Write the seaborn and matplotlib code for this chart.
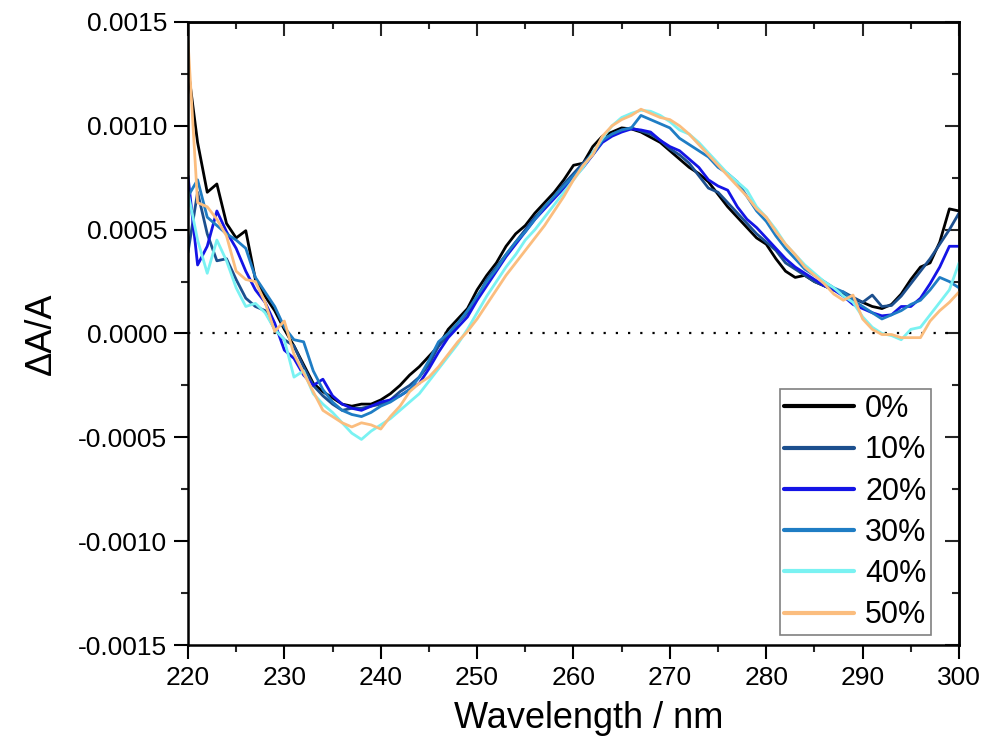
import numpy as np
import pandas as pd
import matplotlib
matplotlib.use("Agg")
import matplotlib.pyplot as plt
from matplotlib.ticker import MultipleLocator
import seaborn as sns

# wavelength grid (nm), 1 nm steps
wavelength = list(range(220, 301))

# dA/A values in units of 1e-4
conc_0 = [12.8, 9.2, 6.8, 7.2, 5.3, 4.6, 4.95, 2.6, 1.8, 1.1,
          0.2, -0.6, -1.5, -2.4, -2.8, -3.1, -3.4, -3.5, -3.4, -3.4,
          -3.2, -2.9, -2.5, -2.0, -1.6, -1.1, -0.6, 0.2, 0.7, 1.2,
          2.1, 2.8, 3.4, 4.2, 4.8, 5.2, 5.8, 6.3, 6.8, 7.4,
          8.1, 8.2, 9.0, 9.5, 9.7, 9.9, 9.85, 9.7, 9.45, 9.2,
          8.8, 8.4, 8.0, 7.7, 7.3, 6.7, 6.1, 5.6, 5.1, 4.6,
          4.3, 3.6, 3.0, 2.7, 2.8, 2.5, 2.3, 2.1, 1.9, 1.7,
          1.5, 1.3, 1.2, 1.4, 1.9, 2.6, 3.2, 3.4, 4.4, 6.0, 5.9]
conc_10 = [3.9, 6.8, 4.8, 3.5, 3.6, 2.6, 1.7, 1.3, 1.1, 0.2,
           -0.3, -0.6, -1.6, -2.5, -3.0, -3.4, -3.7, -3.6, -3.6, -3.5,
           -3.4, -3.2, -2.8, -2.5, -2.1, -1.5, -0.6, -0.1, 0.5, 1.0,
           1.7, 2.6, 3.2, 3.8, 4.4, 5.0, 5.6, 6.1, 6.6, 7.2,
           7.7, 8.2, 8.7, 9.3, 9.6, 9.8, 9.9, 9.75, 9.6, 9.3,
           8.9, 8.6, 8.2, 7.6, 7.0, 6.8, 6.3, 5.8, 5.3, 4.8,
           4.4, 4.0, 3.4, 3.1, 2.8, 2.5, 2.3, 2.1, 2.0, 1.75,
           1.5, 1.85, 1.3, 1.35, 1.8, 2.4, 3.0, 3.6, 4.3, 5.0, 5.8]
conc_20 = [7.6, 3.3, 4.2, 5.9, 4.9, 4.1, 3.0, 2.1, 1.5, 0.5,
           -0.8, -1.2, -2.0, -2.5, -2.2, -3.0, -3.4, -3.6, -3.7, -3.5,
           -3.3, -3.2, -3.0, -2.7, -2.4, -1.7, -0.9, -0.2, 0.3, 0.8,
           1.6, 2.3, 3.0, 3.7, 4.3, 4.9, 5.5, 6.0, 6.5, 7.0,
           7.5, 8.0, 8.6, 9.2, 9.5, 9.7, 9.85, 9.8, 9.7, 9.3,
           9.0, 8.8, 8.4, 8.0, 7.4, 7.1, 6.9, 6.1, 5.5, 5.1,
           4.6, 4.1, 3.6, 3.2, 2.9, 2.6, 2.3, 2.1, 1.8, 1.4,
           1.2, 1.0, 0.85, 0.9, 1.3, 1.3, 1.7, 2.4, 3.2, 4.2, 4.2]
conc_30 = [6.6, 7.4, 5.6, 5.2, 4.8, 4.5, 4.1, 2.7, 2.0, 1.3,
           0.3, -0.3, -0.4, -1.8, -2.7, -3.3, -3.7, -3.9, -4.0, -3.8,
           -3.5, -3.3, -3.0, -2.7, -2.1, -1.3, -0.4, 0.0, 0.5, 1.1,
           1.8, 2.5, 3.1, 3.8, 4.4, 4.9, 5.5, 6.1, 6.6, 7.1,
           7.6, 8.1, 8.6, 9.3, 9.6, 9.8, 9.9, 10.5, 10.3, 10.1,
           9.9, 9.4, 9.1, 8.8, 8.5, 8.0, 7.7, 7.3, 6.6, 5.9,
           5.4, 4.7, 4.1, 3.6, 3.1, 2.8, 2.5, 2.2, 2.0, 1.6,
           1.3, 1.0, 0.7, 0.9, 1.1, 1.4, 1.6, 2.1, 2.7, 2.5, 2.2]
conc_40 = [6.8, 4.5, 2.9, 4.5, 3.5, 2.2, 1.3, 1.45, 1.0, 0.2,
           -0.3, -2.1, -1.8, -2.9, -3.4, -3.8, -4.3, -4.8, -5.1, -4.7,
           -4.4, -4.1, -3.7, -3.3, -2.9, -2.3, -1.7, -1.1, -0.5, 0.2,
           1.0, 1.8, 2.5, 3.2, 3.8, 4.5, 5.0, 5.6, 6.2, 6.8,
           7.4, 8.0, 8.7, 9.4, 10.0, 10.4, 10.6, 10.75, 10.7, 10.5,
           10.2, 9.8, 9.6, 9.2, 8.7, 8.2, 7.7, 7.3, 6.9, 6.1,
           5.6, 5.0, 4.3, 3.8, 3.3, 2.9, 2.5, 2.2, 1.8, 1.5,
           0.8, 0.3, 0.0, -0.1, -0.3, 0.2, 0.3, 0.9, 1.5, 2.1, 3.4]
conc_50 = [14.1, 6.3, 6.1, 5.5, 4.7, 3.0, 2.6, 2.5, 1.5, 0.1,
           0.6, -1.0, -1.9, -2.8, -3.7, -4.0, -4.3, -4.5, -4.3, -4.4,
           -4.6, -4.0, -3.5, -2.8, -2.4, -2.1, -1.6, -1.0, -0.4, 0.1,
           0.7, 1.4, 2.1, 2.8, 3.4, 4.0, 4.6, 5.2, 5.9, 6.6,
           7.4, 8.1, 8.6, 9.5, 10.0, 10.3, 10.5, 10.8, 10.6, 10.4,
           10.3, 10.0, 9.6, 9.1, 8.6, 8.1, 7.6, 7.1, 6.6, 6.0,
           5.6, 4.9, 4.3, 3.8, 3.2, 2.8, 2.4, 1.9, 1.6, 1.85,
           0.7, 0.2, -0.05, -0.05, -0.2, -0.2, -0.2, 0.6, 1.1, 1.5, 2.0]

labels = ["0%", "10%", "20%", "30%", "40%", "50%"]
colors = ["#000000", "#1c4f8e", "#1414e6", "#1f7dc4", "#7af2f2", "#fbbd7e"]
series = [conc_0, conc_10, conc_20, conc_30, conc_40, conc_50]

frames = []
for lab, vals in zip(labels, series):
    frames.append(pd.DataFrame({"wl": wavelength,
                                "dA": np.array(vals) * 1e-4,
                                "conc": lab}))
df = pd.concat(frames, ignore_index=True)

sns.set_style("white")
plt.rcParams["font.family"] = ["Liberation Sans", "DejaVu Sans"]
plt.rcParams["text.color"] = "black"
plt.rcParams["axes.labelcolor"] = "black"

fig = plt.figure(figsize=(9.82, 7.45), dpi=100)
ax = fig.add_axes([0.1914, 0.1342, 0.7852, 0.8363])

ax.axhline(0, color="black", ls=(0, (1, 4.5)), lw=1.6, zorder=1)

sns.lineplot(data=df, x="wl", y="dA", hue="conc", hue_order=labels,
             palette=dict(zip(labels, colors)), lw=2.0, ax=ax,
             estimator=None, sort=False)

ax.set_xlim(220, 300)
ax.set_ylim(-0.0015, 0.0015)
ax.xaxis.set_major_locator(MultipleLocator(10))
ax.xaxis.set_minor_locator(MultipleLocator(5))
ax.yaxis.set_major_locator(MultipleLocator(0.0005))
ax.yaxis.set_minor_locator(MultipleLocator(0.00025))
ax.yaxis.set_major_formatter(matplotlib.ticker.FormatStrFormatter("%.4f"))

ax.tick_params(which="both", bottom=True, left=True, top=False, right=False)
ax.tick_params(which="major", direction="out", length=10, width=1.5,
               labelsize=19, colors="black", pad=5)
ax.tick_params(which="minor", direction="out", length=5, width=1.5)

for sp in ax.spines.values():
    sp.set_linewidth(1.8)
    sp.set_color("black")

# inward ticks on top and right
top = ax.secondary_xaxis("top")
top.xaxis.set_major_locator(MultipleLocator(10))
top.xaxis.set_minor_locator(MultipleLocator(5))
top.tick_params(which="both", top=True)
top.tick_params(which="major", direction="in", length=10, width=1.5, labeltop=False)
top.tick_params(which="minor", direction="in", length=5, width=1.5)
right = ax.secondary_yaxis("right")
right.yaxis.set_major_locator(MultipleLocator(0.0005))
right.yaxis.set_minor_locator(MultipleLocator(0.00025))
right.tick_params(which="both", right=True)
right.tick_params(which="major", direction="in", length=10, width=1.5, labelright=False)
right.tick_params(which="minor", direction="in", length=5, width=1.5)
for s in (top, right):
    for sp in s.spines.values():
        sp.set_linewidth(1.8)

ax.set_xlabel("Wavelength / nm", fontsize=26, labelpad=8)
ax.xaxis.label.set_x(0.52)
ax.set_ylabel("ΔA/A", fontsize=26, labelpad=14)

leg = ax.legend(loc="lower right", bbox_to_anchor=(0.9637, 0.016),
                fontsize=22, frameon=True, fancybox=False, handlelength=2.3,
                handletextpad=0.35, labelspacing=0.37, borderpad=0.15,
                borderaxespad=0, edgecolor="#808080", framealpha=1)
leg.get_frame().set_linewidth(1.2)
for h in leg.get_lines():
    h.set_linewidth(3)

fig.savefig("out.png", dpi=100)
